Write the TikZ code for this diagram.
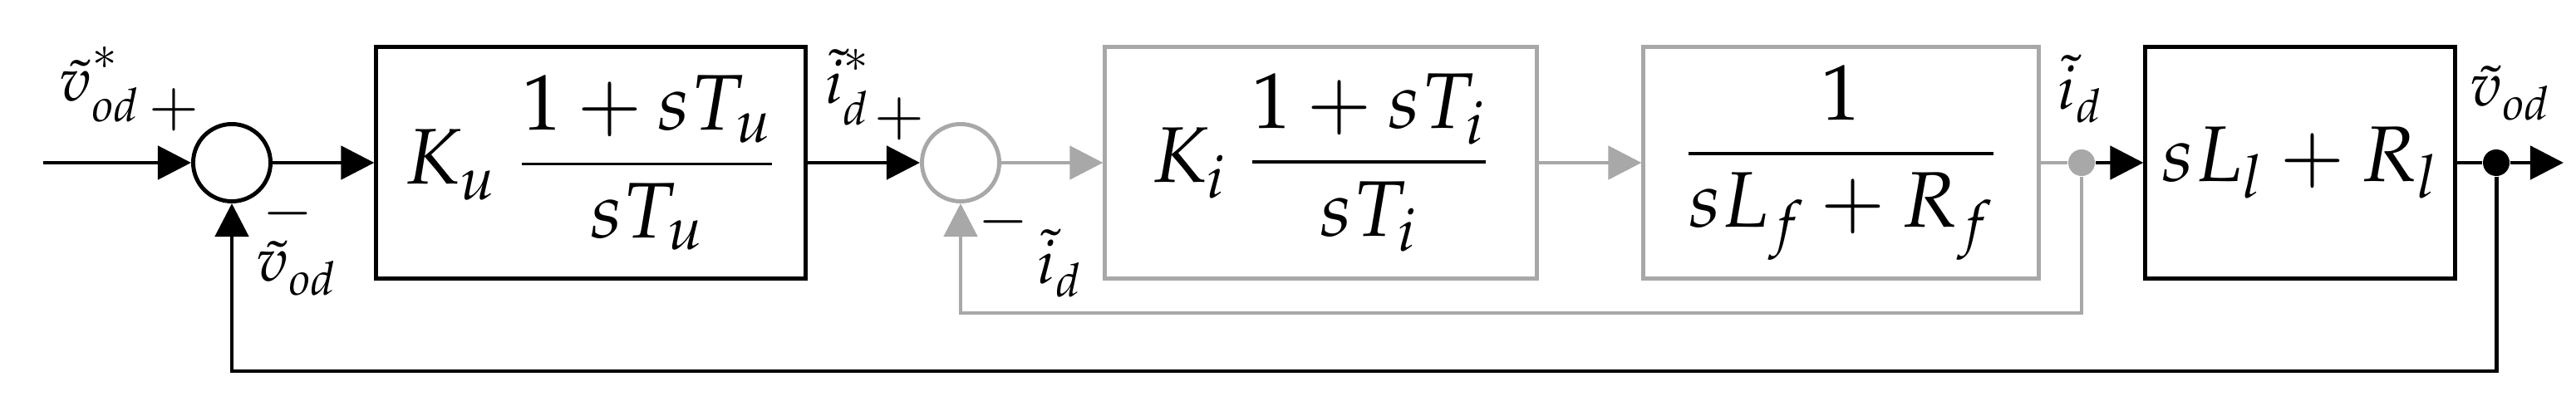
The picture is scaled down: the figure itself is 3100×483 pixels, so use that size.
\documentclass[tikz,border=0pt]{standalone}
\usepackage{amsmath}
\usepackage{mathpazo}
\usetikzlibrary{arrows.meta}
\definecolor{lgray}{RGB}{168,168,168}
\newcommand{\mysb}[1]{_{\lower1.5pt\hbox{$\scriptstyle #1$}}}
\newcommand{\mystar}{^{\raise3pt\hbox{$\scriptstyle *$}}}
\tikzset{
  blk/.style={draw=black, line width=1.4pt},
  gry/.style={draw=lgray, line width=1.4pt},
  arr/.style={-{Triangle[length=11.4pt,width=11.4pt]}},
  blockbox/.style={draw, line width=1.4pt, rectangle, inner sep=0pt, minimum height=2.78cm, font=\fontsize{27}{32}\selectfont},
  sumnode/.style={circle, draw, line width=1.4pt, minimum size=0.93cm, inner sep=0pt},
  dotnode/.style={circle, inner sep=0pt, minimum size=0.32cm},
  lbl/.style={inner sep=0pt, font=\fontsize{21}{25}\selectfont},
}
\begin{document}
\begin{tikzpicture}[x=0.01cm,y=-0.01cm]
\useasboundingbox (0,0) rectangle (3100,483);
% summing junctions
\node[sumnode] (s1) at (279,196) {};
\node[sumnode, draw=lgray] (s2) at (1156,196) {};
% blocks
\node[blockbox, minimum width=5.16cm] (Ku) at (711,196) {$K\mysb{u}\;\dfrac{1+sT_u}{sT_u}$};
\node[blockbox, draw=lgray, minimum width=5.19cm] (Ki) at (1589.5,196) {$K\mysb{i}\;\dfrac{1+sT_i}{sT_i}$};
\node[blockbox, draw=lgray, minimum width=4.75cm] (F) at (2215.5,196) {$\dfrac{1}{sL_f+R_f}$};
\node[blockbox, minimum width=3.72cm, minimum height=2.79cm] (L) at (2768,196) {$sL_l+R_l$};
% branch points
\node[dotnode, fill=lgray] (d1) at (2505,196) {};
\node[dotnode, fill=black] (d2) at (3004,196) {};
% free ends and corners
\coordinate (in) at (52,196);
\coordinate (out) at (3085,196);
\coordinate (fb1) at (3004,447);
\coordinate (fb2) at (2505,377);
% connectors
\draw[blk, arr] (in) -- (s1);
\draw[blk, arr] (s1) -- (Ku);
\draw[blk, arr] (Ku) -- (s2);
\draw[gry, arr] (s2) -- (Ki);
\draw[gry, arr] (Ki) -- (F);
\draw[gry] (F) -- (d1);
\draw[blk, arr] (d1) -- (L);
\draw[blk] (L) -- (d2);
\draw[blk, arr] (d2) -- (out);
\draw[gry, arr] (d1) -- (fb2) -| (s2.south);
\draw[blk, arr] (d2) -- (fb1) -| (s1.south);
% labels
\node[lbl] (lv1) at (120,102) {$\tilde{v}\mystar\mysb{od}$};
\node[lbl] (p1) at (209,132) {$+$};
\node[lbl] (m1) at (346,257) {$-$};
\node[lbl] (lv2) at (357,323) {$\tilde{v}\mysb{od}$};
\node[lbl] (li1) at (1020,105) {$\tilde{i}\mystar\mysb{d}$};
\node[lbl] (p2) at (1082,143) {$+$};
\node[lbl] (m2) at (1207,267) {$-$};
\node[lbl] (li2) at (1275,317) {$\tilde{i}\mysb{d}$};
\node[lbl] (li3) at (2503,107) {$\tilde{i}\mysb{d}$};
\node[lbl] (lv3) at (3021,112) {$\tilde{v}\mysb{od}$};
\end{tikzpicture}
\end{document}
